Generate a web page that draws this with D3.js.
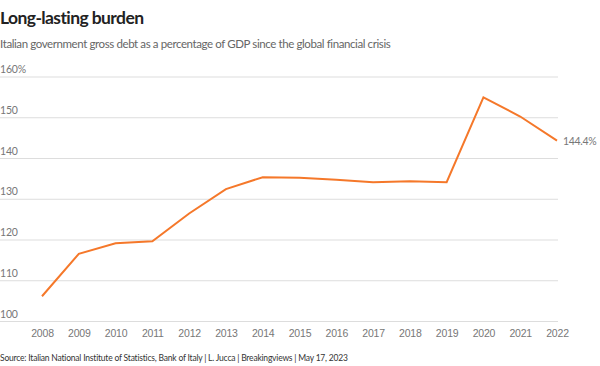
<!DOCTYPE html>
<html><head><meta charset="utf-8">
<script src="https://cdn.jsdelivr.net/npm/d3@7"></script>
<style>body{margin:0;background:#fff;} svg{display:block;font-family:"Source Sans Pro",Lato,"Open Sans",sans-serif;}</style>
</head><body>
<svg id="c" width="600" height="366"></svg>
<script>
const years = [2008,2009,2010,2011,2012,2013,2014,2015,2016,2017,2018,2019,2020,2021,2022];
const debt = [106.2,116.6,119.2,119.7,126.5,132.5,135.4,135.3,134.8,134.2,134.4,134.2,155.0,150.3,144.4];
const yTicks = [100,110,120,130,140,150,160];

const svg = d3.select("#c");
const x = d3.scalePoint().domain(years).range([42,557]);
const y = d3.scaleLinear().domain([100,160]).range([321.5,77]);

svg.append("text").attr("x",0).attr("y",24).attr("font-size",17.5).attr("letter-spacing",-0.6).attr("font-weight",700).attr("fill","#222").text("Long-lasting burden");
svg.append("text").attr("x",0).attr("y",48).attr("font-size",11.5).attr("letter-spacing",-0.4).attr("fill","#666").text("Italian government gross debt as a percentage of GDP since the global financial crisis");

const g = svg.append("g");
yTicks.forEach(t=>{
  g.append("line").attr("x1",0).attr("x2",558).attr("y1",y(t)).attr("y2",y(t)).attr("stroke","#ddd").attr("stroke-width",1);
  g.append("text").attr("x",0).attr("y",y(t)-4).attr("font-size",10.5).attr("letter-spacing",-0.2).attr("fill","#777").text(t===160?"160%":t);
});

const xAxis = svg.append("g").attr("transform","translate(0,321.5)")
  .call(d3.axisBottom(x).tickSize(0).tickPadding(8));
xAxis.select(".domain").remove();
xAxis.selectAll("text").attr("font-size",10.5).attr("letter-spacing",-0.2).attr("fill","#777").attr("font-family","inherit");

svg.append("path").datum(years.map((yr,i)=>[yr,debt[i]]))
  .attr("fill","none").attr("stroke","#f5782a").attr("stroke-width",2)
  .attr("d",d3.line().x(d=>x(d[0])).y(d=>y(d[1])));

svg.append("text").attr("x",x(2022)+6).attr("y",y(debt[debt.length-1])+4).attr("font-size",10.5).attr("letter-spacing",-0.3).attr("fill","#777").text(debt[debt.length-1].toFixed(1)+"%");

svg.append("text").attr("x",0).attr("y",361).attr("font-size",8.5).attr("letter-spacing",-0.2).attr("fill","#333").text("Source: Italian National Institute of Statistics, Bank of Italy | L. Jucca | Breakingviews | May 17, 2023");
</script>
</body></html>
